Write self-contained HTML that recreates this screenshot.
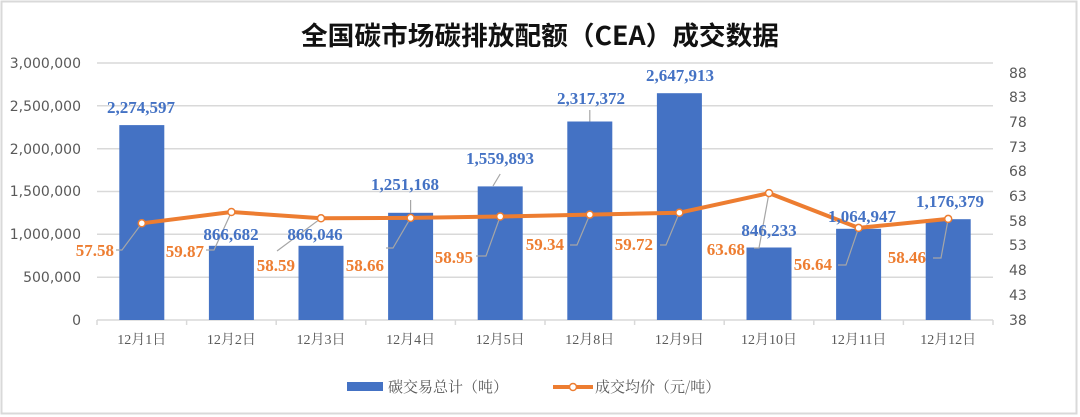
<!DOCTYPE html>
<html><head><meta charset="utf-8"><style>
body{margin:0;background:#fff}
svg{display:block}
.ax{font-family:"DejaVu Sans","Liberation Sans",sans-serif;font-size:14px;fill:#595959}
.cat{font-family:"Liberation Serif","Noto Serif CJK SC",serif;font-size:14px;fill:#595959}
.bl{font-family:"Liberation Serif",serif;font-size:17px;font-weight:bold;fill:#4472C4}
.or{font-family:"Liberation Serif",serif;font-size:17px;font-weight:bold;fill:#ED7D31}
</style></head><body>
<svg width="1080" height="417" viewBox="0 0 1080 417">
<rect x="1.5" y="1.5" width="1075" height="412" fill="#fff" stroke="#d9d9d9" stroke-width="2"/>
<text x="540" y="45" text-anchor="middle" font-family="'Noto Sans CJK SC',sans-serif" font-size="26" font-weight="bold" fill="#111" textLength="478" lengthAdjust="spacingAndGlyphs">全国碳市场碳排放配额（CEA）成交数据</text>
<g stroke="#d9d9d9" stroke-width="1.5">
<line x1="97" x2="993" y1="63" y2="63"/><line x1="97" x2="993" y1="105.8" y2="105.8"/>
<line x1="97" x2="993" y1="148.7" y2="148.7"/><line x1="97" x2="993" y1="191.5" y2="191.5"/>
<line x1="97" x2="993" y1="234.3" y2="234.3"/><line x1="97" x2="993" y1="277.2" y2="277.2"/>
<line x1="97" x2="993" y1="320" y2="320"/>
<line x1="97" x2="97" y1="320" y2="325"/><line x1="186.6" x2="186.6" y1="320" y2="325"/>
<line x1="276.2" x2="276.2" y1="320" y2="325"/><line x1="365.8" x2="365.8" y1="320" y2="325"/>
<line x1="455.4" x2="455.4" y1="320" y2="325"/><line x1="545" x2="545" y1="320" y2="325"/>
<line x1="634.6" x2="634.6" y1="320" y2="325"/><line x1="724.2" x2="724.2" y1="320" y2="325"/>
<line x1="813.8" x2="813.8" y1="320" y2="325"/><line x1="903.4" x2="903.4" y1="320" y2="325"/>
<line x1="993" x2="993" y1="320" y2="325"/>
</g>
<g class="ax" text-anchor="end">
<text x="81" y="68">3,000,000</text><text x="81" y="111">2,500,000</text>
<text x="81" y="154">2,000,000</text><text x="81" y="196">1,500,000</text>
<text x="81" y="239">1,000,000</text><text x="81" y="282">500,000</text>
<text x="81" y="325">0</text>
</g>
<g class="ax">
<text x="1009" y="78">88</text><text x="1009" y="102">83</text><text x="1009" y="127">78</text>
<text x="1009" y="152">73</text><text x="1009" y="176">68</text><text x="1009" y="201">63</text>
<text x="1009" y="226">58</text><text x="1009" y="250">53</text><text x="1009" y="275">48</text>
<text x="1009" y="300">43</text><text x="1009" y="325">38</text>
</g>
<g fill="#4472C4">
<rect x="119.3" y="125.1" width="45" height="194.9"/><rect x="208.9" y="245.8" width="45" height="74.2"/>
<rect x="298.5" y="245.8" width="45" height="74.2"/><rect x="388.1" y="212.8" width="45" height="107.2"/>
<rect x="477.7" y="186.4" width="45" height="133.6"/><rect x="567.3" y="121.5" width="45" height="198.5"/>
<rect x="656.9" y="93.2" width="45" height="226.8"/><rect x="746.5" y="247.5" width="45" height="72.5"/>
<rect x="836.1" y="228.8" width="45" height="91.2"/><rect x="925.7" y="219.2" width="45" height="100.8"/>
</g>
<g class="cat" text-anchor="middle">
<text x="141.8" y="344">12月1日</text><text x="231.4" y="344">12月2日</text><text x="321" y="344">12月3日</text>
<text x="410.6" y="344">12月4日</text><text x="500.2" y="344">12月5日</text><text x="589.8" y="344">12月8日</text>
<text x="679.4" y="344">12月9日</text><text x="769" y="344">12月10日</text><text x="858.6" y="344">12月11日</text>
<text x="948.2" y="344">12月12日</text>
</g>
<g stroke="#a6a6a6" stroke-width="1.2" fill="none">
<polyline points="116,250 122,250 141.8,223.3"/>
<polyline points="206,250 214,250 231.4,212"/>
<polyline points="277,251 321,218.3"/>
<polyline points="386,248 393,248 410.6,217.9"/>
<polyline points="476,256 486,256 500.2,216.5"/>
<polyline points="570,245 577,245 589.8,214.6"/>
<polyline points="660,245 666,245 679.4,212.7"/>
<polyline points="754,248 759,248 769,193.1"/>
<polyline points="838,265 846,265 858.6,227.9"/>
<polyline points="933,258 941,258 948.2,218.9"/>
<polyline points="410.6,200 410.6,212.8"/>
<polyline points="500.2,174 493,186"/>
<polyline points="589.8,110 589.8,121.5"/>
</g>
<polyline fill="none" stroke="#ED7D31" stroke-width="4" stroke-linejoin="round" points="141.8,223.3 231.4,212 321,218.3 410.6,217.9 500.2,216.5 589.8,214.6 679.4,212.7 769,193.1 858.6,227.9 948.2,218.9"/>
<g fill="#fff" stroke="#ED7D31" stroke-width="1.5">
<circle cx="141.8" cy="223.3" r="3.5"/><circle cx="231.4" cy="212" r="3.5"/><circle cx="321" cy="218.3" r="3.5"/>
<circle cx="410.6" cy="217.9" r="3.5"/><circle cx="500.2" cy="216.5" r="3.5"/><circle cx="589.8" cy="214.6" r="3.5"/>
<circle cx="679.4" cy="212.7" r="3.5"/><circle cx="769" cy="193.1" r="3.5"/><circle cx="858.6" cy="227.9" r="3.5"/>
<circle cx="948.2" cy="218.9" r="3.5"/>
</g>
<g class="bl" text-anchor="middle">
<text x="141" y="113">2,274,597</text><text x="231" y="240">866,682</text><text x="315" y="240">866,046</text>
<text x="405" y="190">1,251,168</text><text x="500" y="164">1,559,893</text><text x="591" y="104">2,317,372</text>
<text x="680" y="81">2,647,913</text><text x="769" y="236">846,233</text><text x="862" y="222">1,064,947</text>
<text x="950" y="207">1,176,379</text>
</g>
<g class="or" text-anchor="end">
<text x="114" y="256">57.58</text><text x="204" y="257">59.87</text><text x="295" y="271">58.59</text>
<text x="384" y="271">58.66</text><text x="473" y="263">58.95</text><text x="564" y="250">59.34</text>
<text x="653" y="250">59.72</text><text x="745" y="255">63.68</text><text x="832" y="270">56.64</text>
<text x="926" y="263">58.46</text>
</g>
<rect x="347" y="382" width="36" height="9" fill="#4472C4"/>
<text x="388" y="392" font-family="'Noto Serif CJK SC',serif" font-size="15" fill="#595959">碳交易总计（吨）</text>
<line x1="553" x2="593" y1="387" y2="387" stroke="#ED7D31" stroke-width="4"/>
<circle cx="573" cy="387" r="3.5" fill="#fff" stroke="#ED7D31" stroke-width="1.5"/>
<text x="595" y="392" font-family="'Noto Serif CJK SC',serif" font-size="15" fill="#595959">成交均价（元/吨）</text>
</svg>
</body></html>
